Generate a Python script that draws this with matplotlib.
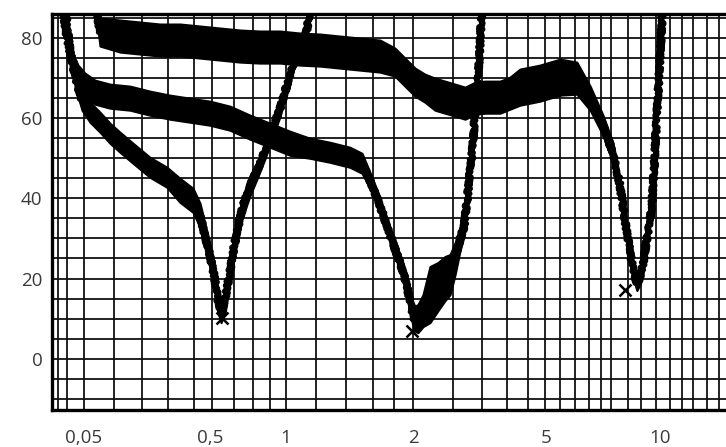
import numpy as np
import matplotlib
matplotlib.use("Agg")
import matplotlib.pyplot as plt

# Curve 1 - notch near 0,5
c1_x = [0.0347, 0.0387, 0.0432, 0.0482, 0.0558, 0.0670, 0.0804, 0.0966, 0.1225, 0.167,
        0.228, 0.289, 0.367, 0.417, 0.456, 0.500, 0.519, 0.538, 0.553, 0.574,
        0.600, 0.634, 0.676, 0.721, 0.775, 0.827, 0.881, 0.948, 1.005, 1.039,
        1.079, 1.121, 1.152]
c1_y = [90, 77, 69.5, 64.5, 61.5, 59, 56.25, 54, 51.25, 47.75,
        45.25, 42, 39.5, 35.75, 30.75, 25.75, 20.75, 14.5, 11.5, 14.5,
        22, 30.75, 38.25, 43.25, 47.5, 52, 57, 62.5, 68.25, 73.25,
        77, 82, 90]
c1_spread = [1.5, 1.5, 2, 2.5, 2.5, 2.5, 2.5, 2.5, 2.5, 2.5,
             2.5, 3, 3, 3, 3, 3, 3, 3, 2.5, 3,
             3, 3, 2.5, 2.5, 2, 2, 2, 2, 1.5, 1.5,
             1.5, 1.5, 1.5]

# Curve 2 - notch near 2
c2_x = [0.0334, 0.0366, 0.0402, 0.0448, 0.0509, 0.0611, 0.0804, 0.116, 0.167, 0.241,
        0.347, 0.500, 0.600, 0.721, 0.865, 1.022, 1.140, 1.271, 1.418, 1.514,
        1.581, 1.652, 1.717, 1.783, 1.863, 1.914, 1.967, 2.014, 2.069, 2.143,
        2.248, 2.376, 2.494, 2.582, 2.673, 2.767, 2.843, 2.904, 3.005, 3.091,
        3.155, 3.199, 3.221]
c2_y = [90, 79.5, 74.5, 70.75, 68.25, 66.5, 65.5, 65, 63.75, 62.75,
        62, 61.25, 60, 57.75, 55.75, 53.75, 52.5, 51.5, 50.25, 48.75,
        44.5, 39.5, 34.5, 29.5, 24, 20, 14.5, 10, 10, 12,
        16, 18, 20, 21, 25, 30, 33, 39.5, 52, 64.5,
        74.5, 84.5, 90]
c2_spread = [1.5, 1.5, 2, 2.5, 3, 3, 3, 3, 3, 3,
             3, 3, 3, 3, 3, 3, 2.5, 2.5, 2.5, 2.5,
             2, 2, 2, 2, 2, 2.5, 3, 3, 3.5, 4,
             7, 6, 5.5, 5, 4, 3, 2.5, 2, 1.5, 1.5,
             1.5, 1.5, 1.5]

# Curve 3 - notch near 8
c3_x = [0.0611, 0.0670, 0.0966, 0.139, 0.200, 0.289, 0.417, 0.548, 0.658, 0.789,
        0.948, 1.079, 1.204, 1.342, 1.497, 1.670, 1.812, 1.914, 2.028, 2.171,
        2.327, 2.494, 2.673, 2.864, 3.069, 3.286, 3.643, 3.902, 4.178, 4.793,
        5.45, 6.03, 6.54, 7.07, 7.52, 7.84, 8.08, 8.33, 8.53, 8.69,
        8.95, 9.22, 9.52, 9.70, 9.88, 10.06, 10.18]
c3_y = [90, 81.5, 80.5, 80, 79.5, 79.5, 79, 78.5, 78, 77.75,
        77.75, 77.25, 77, 76.5, 76, 75.5, 74, 71.5, 69, 67.5,
        66, 65.25, 64.5, 63.75, 65, 65.25, 65.25, 66.25, 67.75, 68.75,
        70.25, 70, 65, 58.25, 51.25, 43.25, 34.5, 27, 21.5, 19,
        21.5, 29.5, 38.25, 52, 65.75, 79.5, 90]
c3_spread = [2, 3.5, 4, 4, 4, 4, 4, 4, 4, 4,
             4, 4, 4, 4, 4, 4, 3.5, 3.5, 3.5, 3.5,
             4, 4, 4, 4, 4, 4, 4, 4, 4.5, 4.5,
             4.5, 4, 3, 2.5, 2.5, 2, 2, 2, 2, 2,
             2, 2, 2, 1.5, 1.5, 1.5, 1.5]

# Minimum marks (x)
min_x = [0.558, 1.99, 8.08]
min_y = [10.25, 7, 17.25]

x_ticks = [0.05, 0.5, 1, 2, 5, 10]
x_tick_labels = ["0,05", "0,5", "1", "2", "5", "10"]
y_ticks = [0, 20, 40, 60, 80]

# The paper's frequency axis is not a true log scale: piecewise log knots
axis_log_knots = [-3.0, -1.301, -0.301, 0.0, 0.301, 0.699, 1.0, 2.0]
axis_paper_knots = [-130.0, 84.0, 210.0, 286.0, 413.0, 546.0, 660.0, 1039.0]

# Vertical lines of the chart paper, in paper units
paper_vlines = [58, 67, 84, 114, 142, 168, 194, 212, 234, 253, 270, 286, 316, 346,
                373, 394, 413, 453, 482, 507, 528, 545, 560, 575, 589, 601, 611,
                628, 641, 656, 670, 682, 693, 707, 719]


def to_paper(x):
    x = np.clip(np.asarray(x, dtype=float), 1e-6, None)
    return np.interp(np.log10(x), axis_log_knots, axis_paper_knots)


def from_paper(u):
    return 10 ** np.interp(np.asarray(u, dtype=float), axis_paper_knots, axis_log_knots)


def draw_curve(ax, x, y, spread):
    x = np.array(x)
    y = np.array(y)
    s = np.array(spread)
    # recorder trace: noisy band with a rough "sketch" edge
    band = ax.fill_between(x, y - s, y + s, color="black", lw=1.5, zorder=3)
    band.set_sketch_params(scale=6, length=2, randomness=4)
    line, = ax.plot(x, y, color="black", lw=4, solid_joinstyle="round", zorder=3)
    line.set_sketch_params(scale=2, length=2, randomness=3)


def main():
    fig = plt.figure(figsize=(7.26, 4.47), dpi=100)
    ax = fig.add_axes([52 / 726, 37 / 447, 674 / 726, 396 / 447])
    ax.set_xscale("function", functions=(to_paper, from_paper))
    ax.set_xlim(from_paper(52), from_paper(726))
    ax.set_ylim(-12.8, 86)

    # chart paper grid
    for u in paper_vlines:
        ax.axvline(from_paper(u), color="#111111", lw=1.3, zorder=1)
    for v in range(-10, 86, 5):
        ax.axhline(v, color="#111111", lw=1.3, zorder=1)

    draw_curve(ax, c1_x, c1_y, c1_spread)
    draw_curve(ax, c2_x, c2_y, c2_spread)
    draw_curve(ax, c3_x, c3_y, c3_spread)
    ax.plot(min_x, min_y, ls="none", marker="x", ms=9, mew=1.8, color="black", zorder=4)

    ax.set_xticks(x_ticks)
    ax.set_xticklabels(x_tick_labels)
    ax.xaxis.set_minor_locator(matplotlib.ticker.NullLocator())
    ax.set_yticks(y_ticks)
    ax.tick_params(length=0, labelsize=13.5, labelcolor="#3a3a3a")
    ax.tick_params(axis="x", pad=14)
    ax.tick_params(axis="y", pad=7)
    for lbl in ax.get_xticklabels() + ax.get_yticklabels():
        lbl.set_fontfamily("Open Sans")

    for side in ["left", "bottom", "top"]:
        ax.spines[side].set_linewidth(2.4)
    ax.spines["right"].set_visible(False)

    fig.savefig("out.png", dpi=100)
    plt.close(fig)


if __name__ == "__main__":
    main()
